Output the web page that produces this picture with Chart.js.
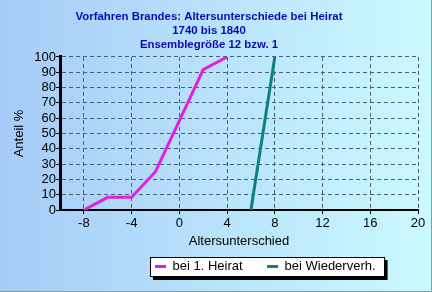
<!DOCTYPE html>
<html>
<head>
<meta charset="utf-8">
<script src="https://cdn.jsdelivr.net/npm/chart.js@4"></script>
<style>
  html, body { margin: 0; padding: 0; background: #b8e0fa; }
  #wrap { width: 432px; height: 292px; }
</style>
</head>
<body>
<div id="wrap"><canvas id="myChart" width="432" height="292"></canvas></div>
<script>
// Altersunterschied (x) und kumulierter Anteil in % (y)
const diffHeirat = [-8, -6, -4, -2, 0, 2, 4];
const shareHeirat = [0, 8.3, 8.3, 25, 58.3, 91.7, 100];
const diffWieder = [6, 8];
const shareWieder = [0, 100];
const xTickValues = [-8, -4, 0, 4, 8, 12, 16, 20];

const titleLines = [
  "Vorfahren Brandes: Altersunterschiede bei Heirat",
  "1740 bis 1840",
  "Ensemblegröße 12 bzw. 1"
];

const toPoints = (xs, ys) => xs.map((x, i) => ({ x: x, y: ys[i] }));

const font = "Arial, 'Liberation Sans', sans-serif";
const gridColor = "#4e5e6c";

const background = {
  id: "background",
  afterLayout(chart) {
    // legend starts further right than centered
    const lg = chart.legend;
    const dx = 145 - lg.left;
    lg.left += dx;
    lg.right += dx;
  },
  beforeDraw(chart) {
    const { ctx, width, height } = chart;
    ctx.save();
    const g = ctx.createLinearGradient(0, 0, width, 0);
    g.addColorStop(0, "#a6cbf7");
    g.addColorStop(1, "#cafaff");
    ctx.fillStyle = g;
    ctx.fillRect(0, 0, width, height);
    ctx.strokeStyle = "#8c9aa6";
    ctx.lineWidth = 1;
    ctx.beginPath();
    ctx.moveTo(width - 0.5, 0);
    ctx.lineTo(width - 0.5, height - 0.5);
    ctx.lineTo(0, height - 0.5);
    ctx.stroke();

    const boxes = chart.legend.legendHitBoxes;
    if (boxes && boxes.length) {
      const first = boxes[0];
      const last = boxes[boxes.length - 1];
      const x0 = first.left - 5;
      const x1 = last.left + last.width + 9;
      const y0 = first.top - 3;
      const y1 = first.top + 17;
      ctx.fillStyle = "#000";
      ctx.fillRect(x0 + 3, y0 + 3, x1 - x0, y1 - y0);
      ctx.fillStyle = "#fff";
      ctx.fillRect(x0, y0, x1 - x0, y1 - y0);
      ctx.strokeStyle = "#000";
      ctx.strokeRect(Math.round(x0) + 0.5, Math.round(y0) + 0.5, Math.round(x1 - x0) - 1, Math.round(y1 - y0) - 1);
    }
    ctx.restore();
  }
};

const config = {
  type: "scatter",
  data: {
    datasets: [
      {
        label: "bei 1. Heirat",
        data: toPoints(diffHeirat, shareHeirat),
        showLine: true,
        borderColor: "#e020e0",
        backgroundColor: "#e020e0",
        borderWidth: 3,
        pointRadius: 0,
        tension: 0
      },
      {
        label: "bei Wiederverh.",
        data: toPoints(diffWieder, shareWieder),
        showLine: true,
        borderColor: "#0e8080",
        backgroundColor: "#0e8080",
        borderWidth: 3,
        pointRadius: 0,
        tension: 0
      }
    ]
  },
  options: {
    responsive: false,
    animation: false,
    layout: { padding: { top: 0, left: 0, right: 14, bottom: 9 } },
    plugins: {
      tooltip: { enabled: false },
      title: {
        display: true,
        text: titleLines,
        color: "#0a0ab4",
        font: { family: font, size: 11.4, weight: "bold", lineHeight: 1.228 },
        padding: { top: 10, bottom: 5 }
      },
      legend: {
        position: "bottom",
        align: "start",
        labels: {
          color: "#000",
          font: { family: font, size: 13 },
          usePointStyle: true,
          pointStyle: "line",
          pointStyleWidth: 11,
          boxHeight: 13,
          padding: 10,
          generateLabels(chart) {
            const items = Chart.defaults.plugins.legend.labels.generateLabels(chart);
            items[0].text = items[0].text + "    ";
            return items;
          }
        }
      }
    },
    scales: {
      x: {
        type: "linear",
        min: -10,
        max: 20,
        afterBuildTicks(scale) {
          scale.ticks = xTickValues.map((v) => ({ value: v }));
        },
        afterFit(scale) {
          scale.height = 40;
        },
        ticks: {
          color: "#000",
          font: { family: font, size: 13 },
          padding: 2,
          maxRotation: 0,
          autoSkip: false
        },
        grid: { color: gridColor, tickColor: "#000", tickLength: 4, lineWidth: 1 },
        border: { color: "#000", width: 2, dash: [4, 3] },
        title: {
          display: true,
          text: "Altersunterschied",
          color: "#000",
          font: { family: font, size: 13 },
          padding: { top: 0, bottom: 1 }
        }
      },
      y: {
        min: 0,
        max: 100,
        afterFit(scale) {
          scale.width = 60;
        },
        ticks: {
          stepSize: 10,
          color: "#000",
          font: { family: font, size: 13 },
          padding: 0,
          autoSkip: false
        },
        grid: { color: gridColor, tickColor: "#000", tickLength: 4, lineWidth: 1 },
        border: { color: "#000", width: 3, dash: [4, 3] },
        title: {
          display: true,
          text: "Anteil %",
          color: "#000",
          font: { family: font, size: 13 },
          padding: { top: 12, bottom: 0 }
        }
      }
    }
  },
  plugins: [background]
};

const chart = new Chart(document.getElementById("myChart"), config);
</script>
</body>
</html>
